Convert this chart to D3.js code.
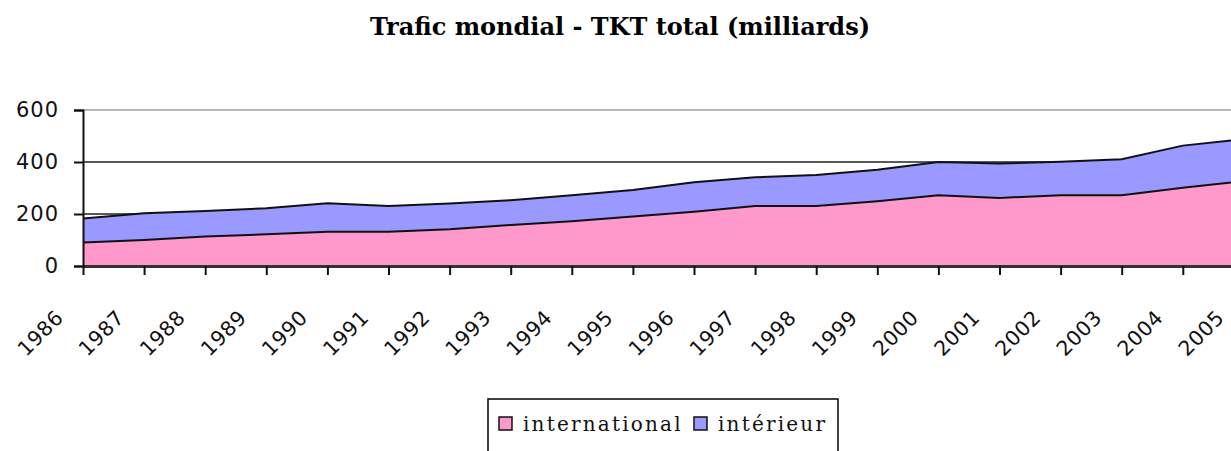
<!DOCTYPE html>
<html>
<head>
<meta charset="utf-8">
<script src="https://cdn.jsdelivr.net/npm/d3@7"></script>
<style>
	body { margin: 0; background: #fff; }
	svg { display: block; }
</style>
</head>
<body>
<div id="chart"></div>
<script>
// values (milliards TKT)
const years = ['1986','1987','1988','1989','1990','1991','1992','1993','1994','1995',
	'1996','1997','1998','1999','2000','2001','2002','2003','2004','2005'];
const international = [90,100,113,122,132,132,141,158,172,190,209,231,231,249,272,262,272,272,301,326];
const interieur = [93,103,99,100,109,99,99,95,100,102,113,110,119,121,128,132,129,139,162,162];
const yTicks = [0,200,400,600];
const seriesNames = ['international','intérieur'];
const seriesColors = ['#ff99cc','#9999ff'];

const width = 1231, height = 451;
const margin = {top: 110, left: 83, bottom: 185};

const svg = d3.select('#chart').append('svg')
	.attr('width', width).attr('height', height);

// title
svg.append('text')
	.attr('x', 620).attr('y', 35)
	.attr('text-anchor', 'middle')
	.style('font-family', 'DejaVu Serif')
	.style('font-weight', 'bold')
	.style('font-size', '24px')
	.text('Trafic mondial - TKT total (milliards)');

// table for the stack
const rows = years.map((y, i) => ({year: y, international: international[i], interieur: interieur[i]}));
const stack = d3.stack().keys(['international','interieur'])(rows);

const x = d3.scalePoint()
	.domain(years)
	.range([margin.left, margin.left + 61.1 * (years.length - 1)]);

const y = d3.scaleLinear()
	.domain([0, 600])
	.range([height - margin.bottom, margin.top]);

// gridlines (the area covers the 200 one)
svg.append('g')
	.selectAll('line').data(yTicks.filter(d => d > 0)).enter().append('line')
	.attr('x1', margin.left).attr('x2', width)
	.attr('y1', d => y(d)).attr('y2', d => y(d))
	.attr('stroke', d => d === 600 ? '#a0a0a0' : '#222')
	.attr('stroke-width', 1.6);

const area = d3.area()
	.x(d => x(d.data.year))
	.y0(d => y(d[0]))
	.y1(d => y(d[1]));

const topLine = d3.line()
	.x(d => x(d.data.year))
	.y(d => y(d[1]));

svg.append('g')
	.selectAll('path').data(stack).enter().append('path')
	.attr('d', area)
	.attr('fill', (d, i) => seriesColors[i]);

svg.append('g')
	.selectAll('path').data(stack).enter().append('path')
	.attr('d', topLine)
	.attr('fill', 'none')
	.attr('stroke', '#111')
	.attr('stroke-width', 2);

// y axis
const yAxis = g => g
	.attr('transform', `translate(${margin.left}, 0)`)
	.call(d3.axisLeft(y).tickValues(yTicks).tickSize(9).tickPadding(15))
	.call(g => g.select('.domain').attr('stroke', '#111').attr('stroke-width', 2))
	.call(g => g.selectAll('line').attr('stroke', '#111').attr('stroke-width', 2))
	.call(g => g.selectAll('text')
		.style('font-family', 'DejaVu Sans')
		.style('font-size', '21px')
		.style('letter-spacing', '1px')
		.attr('fill', '#111'));

// x axis
const xAxis = g => g
	.attr('transform', `translate(0, ${y(0)})`)
	.call(d3.axisBottom(x).tickSize(9).tickSizeOuter(0))
	.call(g => g.select('.domain').attr('stroke', '#333').attr('stroke-width', 3))
	.call(g => g.selectAll('line').attr('stroke', '#111').attr('stroke-width', 2))
	.call(g => g.selectAll('text')
		.attr('text-anchor', 'end')
		.attr('x', 0).attr('y', 0).attr('dy', 0)
		.attr('transform', 'translate(-19, 53) rotate(-45)')
		.style('font-family', 'DejaVu Sans')
		.style('font-size', '20.5px')
		.style('letter-spacing', '0.5px')
		.attr('fill', '#111'));

svg.append('g').call(xAxis);
svg.append('g').call(yAxis);

// legend
const legend = svg.append('g');
legend.append('rect')
	.attr('x', 488).attr('y', 399)
	.attr('width', 350).attr('height', 80)
	.attr('fill', '#fff')
	.attr('stroke', '#111')
	.attr('stroke-width', 1.6);

const legendX = [499, 694];
seriesNames.forEach((name, i) => {
	legend.append('rect')
		.attr('x', legendX[i]).attr('y', 417)
		.attr('width', 13).attr('height', 13)
		.attr('fill', seriesColors[i])
		.attr('stroke', '#111')
		.attr('stroke-width', 1.5);
	legend.append('text')
		.attr('x', legendX[i] + 24).attr('y', 431)
		.style('font-family', 'DejaVu Serif')
		.style('font-size', '20px')
		.style('letter-spacing', '2.2px')
		.attr('fill', '#111')
		.text(name);
});
</script>
</body>
</html>
